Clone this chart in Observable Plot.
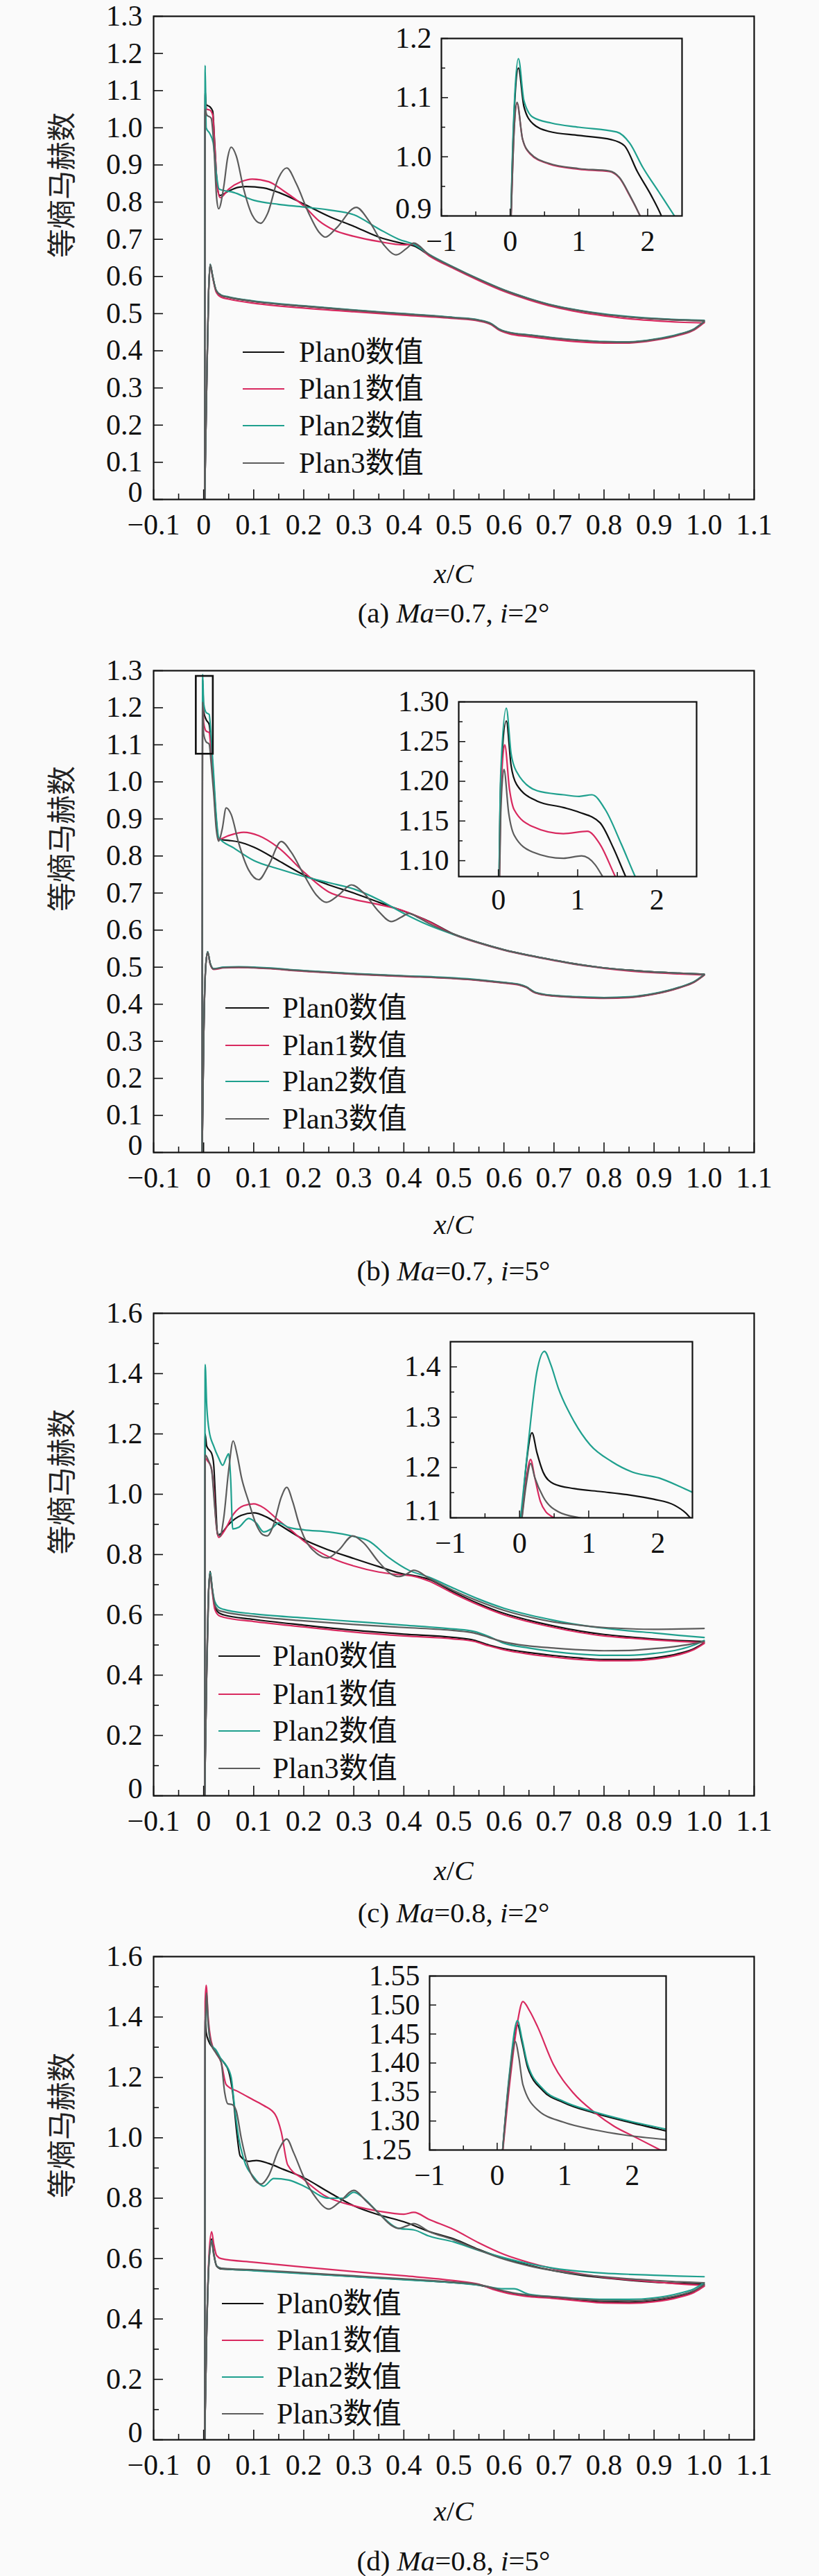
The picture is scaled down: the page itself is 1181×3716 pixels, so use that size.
<!DOCTYPE html>
<html><head><meta charset="utf-8">
<script src="https://cdn.jsdelivr.net/npm/d3@7"></script>
<script src="https://cdn.jsdelivr.net/npm/@observablehq/plot@0.6"></script>
<style>
body{margin:0;background:#fafafa;}
#root{position:relative;width:1181px;height:3716px;overflow:hidden;font-family:"Liberation Serif","Noto Sans CJK SC",serif;color:#111;}
.txt{position:absolute;white-space:nowrap;line-height:1;font-size:41px;transform:translate(-50%,-50%);}
.leg{position:absolute;white-space:nowrap;line-height:1;font-size:42px;transform:translateY(-50%);}
.sw{position:absolute;height:2px;}
</style></head><body><div id="root"></div>
<script>
const plans = ["Plan0数值","Plan1数值","Plan2数值","Plan3数值"];
const colors = ["#111111","#d8295f","#1fa08e","#5c5c5c"];
const yTitle = "等熵马赫数";
const xMajor = [-0.1,0,0.1,0.2,0.3,0.4,0.5,0.6,0.7,0.8,0.9,1.0,1.1];
const xMinor = [-0.05,0.05,0.15,0.25,0.35,0.45,0.55,0.65,0.75,0.85,0.95,1.05];
const yMajor13 = [0,0.1,0.2,0.3,0.4,0.5,0.6,0.7,0.8,0.9,1.0,1.1,1.2,1.3];
const yMajor16 = [0,0.2,0.4,0.6,0.8,1.0,1.2,1.4,1.6];
const yMinor16 = [0.1,0.3,0.5,0.7,0.9,1.1,1.3,1.5];
const captions = ["(a) <i>Ma</i>=0.7, <i>i</i>=2°","(b) <i>Ma</i>=0.7, <i>i</i>=5°","(c) <i>Ma</i>=0.8, <i>i</i>=2°","(d) <i>Ma</i>=0.8, <i>i</i>=5°"];

// ---- Panel (a): Ma=0.7, i=2°  (upper = suction side, lower = pressure side)
const a0u = [[0.002,0],[0.003,1.1],[0.005,1.062],[0.012,1.057],[0.018,1.045],[0.022,0.96],[0.027,0.845],[0.032,0.818],[0.05,0.83],[0.07,0.84],[0.085,0.842],[0.12,0.838],[0.15,0.826],[0.2,0.795],[0.25,0.762],[0.3,0.735],[0.35,0.706],[0.4,0.688],[0.42,0.682],[0.45,0.658],[0.5,0.624],[0.55,0.592],[0.6,0.563],[0.65,0.54],[0.7,0.521],[0.75,0.508],[0.8,0.498],[0.85,0.491],[0.9,0.486],[0.95,0.483],[1.0,0.481]];
const a1u = [[0.002,0],[0.003,1.07],[0.006,1.05],[0.012,1.048],[0.018,1.035],[0.023,0.93],[0.028,0.835],[0.033,0.812],[0.05,0.835],[0.075,0.855],[0.097,0.862],[0.13,0.855],[0.16,0.83],[0.2,0.79],[0.23,0.75],[0.26,0.725],[0.3,0.708],[0.35,0.694],[0.4,0.685],[0.42,0.686],[0.45,0.656],[0.5,0.621],[0.55,0.589],[0.6,0.56],[0.65,0.537],[0.7,0.518],[0.75,0.504],[0.8,0.494],[0.85,0.486],[0.9,0.481],[0.95,0.477],[1.0,0.475]];
const a2u = [[0.002,0],[0.003,1.168],[0.005,1.0],[0.012,0.985],[0.019,0.96],[0.025,0.88],[0.031,0.835],[0.06,0.826],[0.1,0.805],[0.15,0.794],[0.2,0.787],[0.25,0.779],[0.3,0.766],[0.35,0.728],[0.39,0.7],[0.42,0.686],[0.45,0.66],[0.5,0.625],[0.55,0.593],[0.6,0.564],[0.65,0.541],[0.7,0.522],[0.75,0.509],[0.8,0.499],[0.85,0.492],[0.9,0.487],[0.95,0.484],[1.0,0.482]];
const a3u = [[0.002,0],[0.003,1.05],[0.006,1.035],[0.015,1.026],[0.02,0.96],[0.026,0.81],[0.03,0.782],[0.04,0.84],[0.048,0.92],[0.055,0.948],[0.065,0.925],[0.08,0.835],[0.097,0.765],[0.114,0.743],[0.128,0.77],[0.148,0.86],[0.166,0.892],[0.185,0.85],[0.21,0.77],[0.23,0.72],[0.243,0.706],[0.265,0.73],[0.305,0.786],[0.33,0.75],[0.36,0.685],[0.385,0.658],[0.405,0.675],[0.42,0.69],[0.45,0.659],[0.5,0.624],[0.55,0.592],[0.6,0.563],[0.65,0.54],[0.7,0.521],[0.75,0.508],[0.8,0.498],[0.85,0.491],[0.9,0.486],[0.95,0.483],[1.0,0.481]];
const a0l = [[0.002,0],[0.006,0.3],[0.01,0.56],[0.013,0.632],[0.018,0.6],[0.025,0.562],[0.035,0.549],[0.05,0.544],[0.1,0.533],[0.2,0.52],[0.3,0.509],[0.4,0.499],[0.5,0.489],[0.55,0.482],[0.575,0.472],[0.59,0.458],[0.61,0.449],[0.65,0.442],[0.7,0.434],[0.75,0.428],[0.8,0.424],[0.85,0.423],[0.9,0.43],[0.95,0.444],[0.98,0.458],[1.0,0.478]];
const a1l = [[0.002,0],[0.006,0.3],[0.01,0.56],[0.013,0.63],[0.018,0.598],[0.025,0.558],[0.035,0.544],[0.05,0.539],[0.1,0.528],[0.2,0.515],[0.3,0.505],[0.4,0.496],[0.5,0.487],[0.55,0.48],[0.575,0.47],[0.59,0.456],[0.61,0.446],[0.65,0.438],[0.7,0.43],[0.75,0.424],[0.8,0.421],[0.85,0.421],[0.9,0.428],[0.95,0.442],[0.98,0.456],[1.0,0.476]];
const a2l = [[0.002,0],[0.006,0.3],[0.01,0.56],[0.013,0.633],[0.018,0.601],[0.025,0.563],[0.035,0.55],[0.05,0.545],[0.1,0.534],[0.2,0.521],[0.3,0.51],[0.4,0.5],[0.5,0.49],[0.55,0.483],[0.575,0.473],[0.59,0.459],[0.61,0.45],[0.65,0.443],[0.7,0.435],[0.75,0.429],[0.8,0.425],[0.85,0.424],[0.9,0.431],[0.95,0.445],[0.98,0.459],[1.0,0.479]];
const a3l = [[0.002,0],[0.006,0.3],[0.01,0.56],[0.013,0.632],[0.018,0.6],[0.025,0.562],[0.035,0.549],[0.05,0.544],[0.1,0.533],[0.2,0.52],[0.3,0.509],[0.4,0.499],[0.5,0.489],[0.55,0.482],[0.575,0.472],[0.59,0.458],[0.61,0.449],[0.65,0.442],[0.7,0.434],[0.75,0.428],[0.8,0.424],[0.85,0.423],[0.9,0.43],[0.95,0.444],[0.98,0.458],[1.0,0.478]];

// ---- Panel (b): Ma=0.7, i=5°
const b0u = [[-0.003,0],[-0.002,1.275],[0.0,1.19],[0.005,1.168],[0.011,1.155],[0.015,1.1],[0.02,1.0],[0.025,0.9],[0.03,0.845],[0.05,0.842],[0.07,0.838],[0.1,0.824],[0.15,0.787],[0.2,0.749],[0.25,0.722],[0.3,0.7],[0.35,0.675],[0.4,0.651],[0.45,0.624],[0.5,0.589],[0.55,0.566],[0.6,0.547],[0.65,0.532],[0.7,0.519],[0.75,0.507],[0.8,0.498],[0.85,0.492],[0.9,0.487],[0.95,0.484],[1.0,0.481]];
const b1u = [[-0.003,0],[-0.002,1.245],[0.0,1.16],[0.005,1.137],[0.011,1.133],[0.015,1.08],[0.02,0.99],[0.025,0.89],[0.03,0.845],[0.05,0.855],[0.08,0.864],[0.11,0.855],[0.15,0.822],[0.2,0.757],[0.25,0.703],[0.3,0.683],[0.35,0.669],[0.4,0.652],[0.45,0.623],[0.5,0.588],[0.55,0.565],[0.6,0.546],[0.65,0.531],[0.7,0.518],[0.75,0.506],[0.8,0.497],[0.85,0.49],[0.9,0.485],[0.95,0.482],[1.0,0.479]];
const b2u = [[-0.003,0],[-0.002,1.29],[0.0,1.212],[0.005,1.187],[0.011,1.182],[0.015,1.12],[0.02,1.02],[0.025,0.91],[0.03,0.85],[0.06,0.822],[0.1,0.788],[0.15,0.765],[0.2,0.745],[0.25,0.728],[0.3,0.711],[0.35,0.682],[0.4,0.645],[0.45,0.613],[0.5,0.588],[0.55,0.566],[0.6,0.547],[0.65,0.532],[0.7,0.519],[0.75,0.507],[0.8,0.498],[0.85,0.492],[0.9,0.487],[0.95,0.484],[1.0,0.481]];
const b3u = [[-0.003,0],[-0.002,1.215],[0.0,1.13],[0.005,1.108],[0.011,1.102],[0.015,1.05],[0.02,0.97],[0.025,0.875],[0.03,0.84],[0.037,0.872],[0.045,0.93],[0.055,0.912],[0.07,0.835],[0.09,0.762],[0.11,0.736],[0.13,0.775],[0.155,0.839],[0.175,0.81],[0.2,0.75],[0.225,0.695],[0.245,0.675],[0.27,0.695],[0.295,0.722],[0.32,0.7],[0.35,0.65],[0.375,0.623],[0.395,0.635],[0.41,0.645],[0.43,0.633],[0.45,0.618],[0.5,0.589],[0.55,0.566],[0.6,0.547],[0.65,0.532],[0.7,0.519],[0.75,0.507],[0.8,0.498],[0.85,0.492],[0.9,0.487],[0.95,0.484],[1.0,0.481]];
const b0l = [[-0.003,0],[0.0,0.3],[0.004,0.5],[0.008,0.541],[0.013,0.51],[0.02,0.495],[0.04,0.499],[0.07,0.5],[0.1,0.499],[0.2,0.49],[0.3,0.482],[0.4,0.476],[0.5,0.47],[0.55,0.465],[0.6,0.458],[0.63,0.453],[0.645,0.446],[0.66,0.433],[0.68,0.426],[0.7,0.423],[0.75,0.419],[0.8,0.417],[0.85,0.419],[0.9,0.428],[0.95,0.445],[0.98,0.46],[1.0,0.479]];
const b1l = [[-0.003,0],[0.0,0.3],[0.004,0.5],[0.008,0.54],[0.013,0.509],[0.02,0.494],[0.04,0.498],[0.07,0.499],[0.1,0.498],[0.2,0.489],[0.3,0.481],[0.4,0.475],[0.5,0.469],[0.55,0.464],[0.6,0.457],[0.63,0.452],[0.645,0.445],[0.66,0.432],[0.68,0.425],[0.7,0.422],[0.75,0.418],[0.8,0.416],[0.85,0.418],[0.9,0.427],[0.95,0.444],[0.98,0.459],[1.0,0.478]];
const b2l = [[-0.003,0],[0.0,0.3],[0.004,0.5],[0.008,0.542],[0.013,0.511],[0.02,0.496],[0.04,0.5],[0.07,0.501],[0.1,0.5],[0.2,0.491],[0.3,0.483],[0.4,0.477],[0.5,0.471],[0.55,0.466],[0.6,0.459],[0.63,0.454],[0.645,0.447],[0.66,0.434],[0.68,0.427],[0.7,0.424],[0.75,0.42],[0.8,0.418],[0.85,0.42],[0.9,0.429],[0.95,0.446],[0.98,0.461],[1.0,0.48]];
const b3l = [[-0.003,0],[0.0,0.3],[0.004,0.5],[0.008,0.541],[0.013,0.51],[0.02,0.495],[0.04,0.499],[0.07,0.5],[0.1,0.499],[0.2,0.49],[0.3,0.482],[0.4,0.476],[0.5,0.47],[0.55,0.465],[0.6,0.458],[0.63,0.453],[0.645,0.446],[0.66,0.433],[0.68,0.426],[0.7,0.423],[0.75,0.419],[0.8,0.417],[0.85,0.419],[0.9,0.428],[0.95,0.445],[0.98,0.46],[1.0,0.479]];
const bZoomBox = [{x1:-0.015,x2:0.019,y1:1.075,y2:1.285}];

// ---- Panel (c): Ma=0.8, i=2°
const c0u = [[0.002,0],[0.003,1.2],[0.006,1.16],[0.012,1.145],[0.016,1.135],[0.02,1.1],[0.024,0.97],[0.028,0.864],[0.035,0.87],[0.05,0.9],[0.075,0.93],[0.1,0.938],[0.125,0.925],[0.15,0.9],[0.2,0.85],[0.25,0.815],[0.3,0.787],[0.35,0.76],[0.4,0.735],[0.42,0.73],[0.45,0.718],[0.5,0.675],[0.55,0.637],[0.6,0.605],[0.65,0.582],[0.7,0.563],[0.75,0.547],[0.8,0.535],[0.85,0.527],[0.9,0.52],[0.95,0.515],[1.0,0.512]];
const c1u = [[0.002,0],[0.003,1.12],[0.008,1.11],[0.015,1.09],[0.02,1.02],[0.025,0.9],[0.03,0.857],[0.04,0.875],[0.06,0.935],[0.08,0.962],[0.1,0.968],[0.12,0.955],[0.145,0.92],[0.175,0.88],[0.2,0.845],[0.23,0.81],[0.26,0.785],[0.3,0.762],[0.35,0.742],[0.38,0.735],[0.42,0.728],[0.45,0.712],[0.5,0.67],[0.55,0.632],[0.6,0.6],[0.65,0.577],[0.7,0.558],[0.75,0.542],[0.8,0.53],[0.85,0.523],[0.9,0.517],[0.95,0.512],[1.0,0.508]];
const c2u = [[0.002,0],[0.003,1.43],[0.006,1.3],[0.011,1.21],[0.02,1.16],[0.03,1.12],[0.038,1.096],[0.045,1.12],[0.05,1.134],[0.054,1.05],[0.058,0.885],[0.07,0.89],[0.09,0.92],[0.105,0.905],[0.12,0.875],[0.135,0.885],[0.15,0.905],[0.17,0.89],[0.2,0.882],[0.25,0.875],[0.3,0.86],[0.33,0.845],[0.37,0.79],[0.41,0.748],[0.45,0.725],[0.5,0.688],[0.55,0.652],[0.6,0.622],[0.65,0.6],[0.7,0.582],[0.75,0.567],[0.8,0.556],[0.85,0.547],[0.9,0.54],[0.95,0.532],[1.0,0.525]];
const c3u = [[0.002,0],[0.003,1.13],[0.01,1.11],[0.016,1.08],[0.022,0.96],[0.028,0.87],[0.033,0.862],[0.04,0.92],[0.05,1.08],[0.059,1.177],[0.067,1.13],[0.075,1.06],[0.09,0.975],[0.105,0.9],[0.118,0.866],[0.127,0.862],[0.14,0.9],[0.155,0.99],[0.166,1.023],[0.178,0.975],[0.19,0.905],[0.2,0.86],[0.225,0.805],[0.248,0.789],[0.27,0.815],[0.298,0.862],[0.32,0.838],[0.35,0.775],[0.375,0.735],[0.39,0.727],[0.405,0.735],[0.42,0.748],[0.45,0.722],[0.5,0.68],[0.55,0.645],[0.6,0.615],[0.65,0.593],[0.7,0.576],[0.75,0.566],[0.8,0.558],[0.85,0.554],[0.9,0.552],[0.95,0.553],[1.0,0.555]];
const c0l = [[0.002,0],[0.006,0.4],[0.01,0.68],[0.013,0.744],[0.017,0.69],[0.022,0.63],[0.03,0.607],[0.04,0.6],[0.1,0.585],[0.2,0.566],[0.3,0.549],[0.4,0.536],[0.5,0.525],[0.54,0.516],[0.57,0.5],[0.6,0.488],[0.65,0.475],[0.7,0.465],[0.75,0.457],[0.8,0.452],[0.85,0.452],[0.9,0.457],[0.95,0.472],[0.98,0.488],[1.0,0.507]];
const c1l = [[0.002,0],[0.006,0.4],[0.01,0.68],[0.013,0.735],[0.017,0.68],[0.022,0.62],[0.03,0.598],[0.04,0.592],[0.1,0.578],[0.2,0.56],[0.3,0.543],[0.4,0.53],[0.5,0.52],[0.54,0.512],[0.57,0.497],[0.6,0.484],[0.65,0.47],[0.7,0.46],[0.75,0.452],[0.8,0.448],[0.85,0.448],[0.9,0.453],[0.95,0.468],[0.98,0.485],[1.0,0.505]];
const c2l = [[0.002,0],[0.006,0.4],[0.01,0.68],[0.013,0.74],[0.017,0.69],[0.022,0.645],[0.03,0.625],[0.04,0.618],[0.1,0.603],[0.2,0.59],[0.3,0.578],[0.4,0.566],[0.5,0.553],[0.54,0.545],[0.57,0.528],[0.6,0.506],[0.65,0.49],[0.7,0.478],[0.75,0.47],[0.8,0.466],[0.85,0.466],[0.9,0.472],[0.95,0.485],[0.98,0.5],[1.0,0.515]];
const c3l = [[0.002,0],[0.006,0.4],[0.01,0.68],[0.013,0.735],[0.017,0.685],[0.022,0.635],[0.03,0.615],[0.04,0.61],[0.1,0.595],[0.2,0.58],[0.3,0.568],[0.4,0.558],[0.5,0.548],[0.54,0.54],[0.57,0.525],[0.6,0.51],[0.65,0.497],[0.7,0.49],[0.75,0.484],[0.8,0.481],[0.85,0.482],[0.9,0.488],[0.95,0.497],[0.98,0.505],[1.0,0.512]];

// ---- Panel (d): Ma=0.8, i=5°
const d0u = [[0.002,0],[0.003,1.4],[0.005,1.35],[0.01,1.32],[0.02,1.295],[0.03,1.27],[0.04,1.25],[0.05,1.22],[0.058,1.15],[0.066,1.02],[0.073,0.94],[0.09,0.922],[0.105,0.925],[0.13,0.915],[0.16,0.895],[0.2,0.868],[0.25,0.82],[0.3,0.775],[0.35,0.745],[0.4,0.722],[0.45,0.69],[0.5,0.665],[0.55,0.63],[0.6,0.6],[0.65,0.578],[0.7,0.56],[0.75,0.546],[0.8,0.536],[0.85,0.528],[0.9,0.522],[0.95,0.518],[1.0,0.515]];
const d1u = [[0.002,0],[0.003,1.45],[0.005,1.505],[0.009,1.4],[0.015,1.32],[0.025,1.28],[0.035,1.25],[0.045,1.176],[0.07,1.152],[0.1,1.125],[0.12,1.107],[0.143,1.077],[0.155,1.02],[0.168,0.91],[0.2,0.862],[0.24,0.81],[0.3,0.775],[0.35,0.757],[0.4,0.747],[0.42,0.753],[0.45,0.73],[0.5,0.696],[0.55,0.652],[0.6,0.614],[0.65,0.587],[0.7,0.566],[0.75,0.55],[0.8,0.538],[0.85,0.53],[0.9,0.523],[0.95,0.516],[1.0,0.511]];
const d2u = [[0.002,0],[0.003,1.35],[0.006,1.45],[0.009,1.38],[0.015,1.31],[0.025,1.29],[0.035,1.26],[0.045,1.24],[0.055,1.2],[0.062,1.1],[0.07,1.0],[0.08,0.93],[0.1,0.87],[0.12,0.84],[0.14,0.865],[0.17,0.86],[0.2,0.84],[0.25,0.8],[0.28,0.8],[0.3,0.82],[0.32,0.8],[0.35,0.75],[0.39,0.7],[0.42,0.695],[0.45,0.675],[0.5,0.655],[0.55,0.627],[0.6,0.603],[0.65,0.583],[0.7,0.568],[0.75,0.558],[0.8,0.552],[0.85,0.548],[0.9,0.545],[0.95,0.542],[1.0,0.54]];
const d3u = [[0.002,0],[0.003,1.3],[0.006,1.48],[0.009,1.38],[0.015,1.31],[0.025,1.28],[0.035,1.25],[0.042,1.15],[0.048,1.113],[0.057,1.11],[0.065,1.09],[0.075,1.0],[0.09,0.9],[0.105,0.855],[0.115,0.847],[0.13,0.875],[0.15,0.96],[0.166,0.996],[0.18,0.95],[0.2,0.87],[0.225,0.8],[0.25,0.764],[0.27,0.785],[0.3,0.826],[0.325,0.79],[0.35,0.75],[0.375,0.71],[0.39,0.7],[0.405,0.708],[0.42,0.716],[0.45,0.69],[0.5,0.662],[0.55,0.628],[0.6,0.598],[0.65,0.576],[0.7,0.56],[0.75,0.548],[0.8,0.54],[0.85,0.533],[0.9,0.528],[0.95,0.523],[1.0,0.52]];
const d0l = [[0.002,0],[0.006,0.35],[0.011,0.6],[0.016,0.665],[0.02,0.62],[0.026,0.575],[0.035,0.566],[0.1,0.561],[0.2,0.551],[0.3,0.541],[0.4,0.531],[0.5,0.52],[0.55,0.512],[0.58,0.5],[0.6,0.49],[0.64,0.478],[0.7,0.47],[0.75,0.462],[0.8,0.456],[0.85,0.455],[0.9,0.46],[0.95,0.475],[0.98,0.49],[1.0,0.51]];
const d1l = [[0.002,0],[0.006,0.35],[0.011,0.62],[0.016,0.689],[0.02,0.65],[0.026,0.61],[0.035,0.6],[0.1,0.588],[0.2,0.572],[0.3,0.557],[0.4,0.543],[0.5,0.527],[0.55,0.515],[0.58,0.497],[0.6,0.488],[0.64,0.476],[0.7,0.468],[0.75,0.46],[0.8,0.453],[0.85,0.452],[0.9,0.457],[0.95,0.472],[0.98,0.488],[1.0,0.508]];
const d2l = [[0.002,0],[0.006,0.35],[0.011,0.6],[0.016,0.66],[0.02,0.615],[0.026,0.576],[0.035,0.568],[0.1,0.56],[0.2,0.55],[0.3,0.54],[0.4,0.53],[0.5,0.52],[0.55,0.512],[0.6,0.5],[0.62,0.5],[0.65,0.482],[0.7,0.474],[0.75,0.468],[0.8,0.465],[0.85,0.465],[0.9,0.47],[0.95,0.485],[0.98,0.5],[1.0,0.52]];
const d3l = [[0.002,0],[0.006,0.35],[0.011,0.6],[0.016,0.655],[0.02,0.615],[0.026,0.575],[0.035,0.568],[0.1,0.563],[0.2,0.553],[0.3,0.543],[0.4,0.533],[0.5,0.522],[0.55,0.514],[0.58,0.502],[0.6,0.493],[0.64,0.481],[0.7,0.473],[0.75,0.466],[0.8,0.461],[0.85,0.46],[0.9,0.465],[0.95,0.479],[0.98,0.494],[1.0,0.514]];

// ---- Insets (leading-edge detail)
const ia0 = [[0,0.85],[0.03,0.98],[0.07,1.1],[0.12,1.15],[0.2,1.085],[0.33,1.056],[0.56,1.043],[1.0,1.036],[1.47,1.029],[1.66,1.019],[1.85,0.975],[2.05,0.935],[2.2,0.9],[2.3,0.87]];
const ia1 = [[0,0.85],[0.03,0.96],[0.06,1.05],[0.1,1.09],[0.18,1.03],[0.29,1.005],[0.56,0.988],[1.0,0.979],[1.44,0.975],[1.59,0.964],[1.74,0.934],[1.89,0.9],[2.0,0.87]];
const ia2 = [[0,0.85],[0.03,0.99],[0.07,1.11],[0.12,1.166],[0.2,1.095],[0.33,1.067],[0.6,1.057],[1.0,1.05],[1.55,1.042],[1.74,1.023],[1.93,0.982],[2.16,0.941],[2.39,0.9],[2.5,0.88]];
const ia3 = [[0,0.85],[0.03,0.96],[0.06,1.05],[0.1,1.092],[0.18,1.03],[0.29,1.006],[0.56,0.989],[1.0,0.98],[1.44,0.976],[1.59,0.965],[1.74,0.935],[1.89,0.9],[2.0,0.87]];
const ib0 = [[0,1.0],[0.03,1.2],[0.1,1.276],[0.16,1.22],[0.23,1.196],[0.49,1.175],[0.82,1.167],[1.02,1.161],[1.28,1.148],[1.45,1.116],[1.61,1.079],[1.7,1.06]];
const ib1 = [[0,1.0],[0.03,1.18],[0.08,1.246],[0.14,1.19],[0.2,1.164],[0.43,1.143],[0.82,1.134],[1.12,1.137],[1.28,1.121],[1.48,1.079],[1.58,1.06]];
const ib2 = [[0,1.0],[0.03,1.21],[0.1,1.292],[0.16,1.235],[0.23,1.212],[0.49,1.188],[0.82,1.183],[1.02,1.181],[1.18,1.183],[1.35,1.164],[1.55,1.121],[1.73,1.079],[1.82,1.06]];
const ib3 = [[0,1.0],[0.03,1.16],[0.07,1.215],[0.13,1.16],[0.2,1.132],[0.43,1.111],[0.82,1.103],[1.05,1.106],[1.22,1.095],[1.32,1.079],[1.42,1.06]];
const ic0 = [[0.02,1.08],[0.1,1.21],[0.18,1.269],[0.25,1.23],[0.34,1.191],[0.49,1.168],[0.79,1.158],[1.18,1.152],[1.56,1.146],[1.94,1.137],[2.24,1.125],[2.4,1.11],[2.47,1.1],[2.55,1.09]];
const ic1 = [[0.02,1.08],[0.1,1.18],[0.16,1.216],[0.22,1.18],[0.3,1.133],[0.38,1.112],[0.45,1.104],[0.52,1.098],[0.6,1.09]];
const ic2 = [[0.0,1.08],[0.12,1.24],[0.25,1.39],[0.36,1.431],[0.45,1.405],[0.56,1.358],[0.79,1.291],[1.02,1.245],[1.33,1.212],[1.63,1.191],[2.02,1.179],[2.32,1.162],[2.51,1.15]];
const ic3 = [[0.02,1.08],[0.1,1.17],[0.16,1.208],[0.22,1.18],[0.34,1.142],[0.56,1.112],[0.87,1.1],[1.1,1.095],[1.3,1.09]];
const id0 = [[0.06,1.22],[0.18,1.375],[0.3,1.466],[0.37,1.435],[0.45,1.393],[0.68,1.352],[0.98,1.332],[1.43,1.314],[1.88,1.3],[2.5,1.283]];
const id1 = [[0.06,1.22],[0.2,1.38],[0.3,1.47],[0.38,1.506],[0.48,1.49],[0.6,1.462],[0.83,1.398],[1.13,1.348],[1.43,1.316],[1.73,1.291],[2.03,1.273],[2.33,1.255],[2.5,1.245]];
const id2 = [[0.06,1.22],[0.18,1.38],[0.3,1.473],[0.37,1.44],[0.45,1.398],[0.68,1.355],[0.98,1.334],[1.43,1.316],[1.88,1.302],[2.5,1.286]];
const id3 = [[0.06,1.22],[0.17,1.36],[0.27,1.437],[0.32,1.41],[0.38,1.363],[0.6,1.319],[0.98,1.298],[1.43,1.285],[1.88,1.276],[2.5,1.268]];

const root = document.getElementById("root");
const fmt1 = d => d === 0 ? "0" : (d < 0 ? "−" : "") + Math.abs(d).toFixed(1);
const fmt2 = d => d.toFixed(2);
const fmtI = d => (d < 0 ? "−" : "") + Math.abs(d);
const baseStyle = {fontFamily:"Liberation Serif", fontSize:"42px", background:"transparent", color:"#111", overflow:"visible"};

function rows(list){ return list.flatMap((pts,k)=>pts.map(([x,y])=>({x,y,k}))); }
function lines(perPlan, sw){
  return [0,1,2,3].map(i => Plot.line(rows(perPlan[i]), {x:"x", y:"y", z:"k", stroke:colors[i], strokeWidth:sw, curve:"monotone-x", clip:true}));
}

function mainPanel(o){
  const W = 866, H = o.h, mL = 221, mR = 94, mT = 20, mB = 70;
  const yRest = o.yMajor.slice(1), yFirst = o.yMajor.slice(0,1);
  const svg = Plot.plot({
    width:1181, height:H+mT+mB, marginLeft:mL, marginRight:mR, marginTop:mT, marginBottom:mB,
    x:{domain:[-0.1,1.1]}, y:{domain:o.yDomain},
    style:baseStyle,
    marks:[
      ...lines(o.data, 2.2),
      o.box ? Plot.rect(o.box, {x1:"x1", x2:"x2", y1:"y1", y2:"y2", stroke:"#111", strokeWidth:2.6, fill:"none"}) : null,
      Plot.tickX(xMinor, {x:d=>d, insetTop:H-8, stroke:"#111", strokeWidth:1.6}),
      Plot.tickX(xMajor, {x:d=>d, insetTop:H-14, stroke:"#111", strokeWidth:1.6}),
      o.yMinor ? Plot.tickY(o.yMinor, {y:d=>d, insetRight:W-8, stroke:"#111", strokeWidth:1.6}) : null,
      Plot.tickY(o.yMajor, {y:d=>d, insetRight:W-14, stroke:"#111", strokeWidth:1.6}),
      Plot.axisX(xMajor, {tickSize:0, tickPadding:21, tickFormat:fmt1, label:null, fontSize:42}),
      Plot.axisY(yRest, {tickSize:0, tickPadding:16, tickFormat:fmt1, label:null, fontSize:42}),
      Plot.axisY(yFirst, {tickSize:0, tickPadding:16, tickFormat:fmt1, label:null, fontSize:42, dy:-10}),
      Plot.text([yTitle], {text:d=>d, frameAnchor:"left", dx:-131, rotate:-90, fontSize:42, fontFamily:"Noto Sans CJK SC", fill:"#222"}),
      Plot.frame({stroke:"#111", strokeWidth:2.2})
    ]
  });
  svg.style.position = "absolute"; svg.style.left = "0px"; svg.style.top = (o.top - mT) + "px";
  root.appendChild(svg);
}

function insetPanel(o){
  const mL = 100, mR = 24, mT = 28, mB = 66;
  const yRest = o.yMajor.slice(1), yFirst = o.yMajor.slice(0,1);
  const svg = Plot.plot({
    width:o.w+mL+mR, height:o.h+mT+mB, marginLeft:mL, marginRight:mR, marginTop:mT, marginBottom:mB,
    x:{domain:o.xDomain}, y:{domain:o.yDomain},
    style:baseStyle,
    marks:[
      ...lines(o.data, 2.2),
      Plot.tickX(o.xMinor, {x:d=>d, insetTop:o.h-6, stroke:"#111", strokeWidth:1.5}),
      Plot.tickX(o.xMajor, {x:d=>d, insetTop:o.h-10, stroke:"#111", strokeWidth:1.5}),
      Plot.tickY(o.yMinor, {y:d=>d, insetRight:o.w-6, stroke:"#111", strokeWidth:1.5}),
      Plot.tickY(o.yMajor, {y:d=>d, insetRight:o.w-10, stroke:"#111", strokeWidth:1.5}),
      Plot.axisX(o.xMajor, {tickSize:0, tickPadding:o.xPad, tickFormat:fmtI, label:null, fontSize:42}),
      Plot.axisY(yRest, {tickSize:0, tickPadding:14, tickFormat:o.yFmt, label:null, fontSize:42}),
      Plot.axisY(yFirst, {tickSize:0, tickPadding:o.y0pad, tickFormat:o.yFmt, label:null, fontSize:42, dy:o.y0dy}),
      Plot.frame({stroke:"#111", strokeWidth:2.2})
    ]
  });
  svg.style.position = "absolute"; svg.style.left = (o.x0 - mL) + "px"; svg.style.top = (o.y0 - mT) + "px";
  root.appendChild(svg);
}

function text(html, x, y){
  const d = document.createElement("div");
  d.className = "txt"; d.innerHTML = html;
  d.style.left = x + "px"; d.style.top = y + "px";
  root.appendChild(d);
}
function legend(lx1, lx2, tx, ys){
  ys.forEach((y,i) => {
    const s = document.createElement("div");
    s.className = "sw"; s.style.left = lx1 + "px"; s.style.width = (lx2 - lx1) + "px";
    s.style.top = (y - 1) + "px"; s.style.background = colors[i];
    root.appendChild(s);
    const t = document.createElement("div");
    t.className = "leg"; t.textContent = plans[i];
    t.style.left = tx + "px"; t.style.top = y + "px";
    root.appendChild(t);
  });
}

const panels = [
  {top:23, h:697, yDomain:[0,1.3], yMajor:yMajor13, data:[[a0u,a0l],[a1u,a1l],[a2u,a2l],[a3u,a3l]],
   leg:[350,410,431,[508,561,614,668]], xl:827, cap:884,
   inset:{x0:636, y0:55, w:347, h:256, xDomain:[-1,2.5], yDomain:[0.9,1.2], xMajor:[-1,0,1,2], xMinor:[-0.5,0.5,1.5], yMajor:[0.9,1.0,1.1,1.2], yMinor:[0.95,1.05,1.15], yFmt:fmt1, xPad:21, y0dy:-10, y0pad:14, data:[[ia0],[ia1],[ia2],[ia3]]}},
  {top:967, h:695, yDomain:[0,1.3], yMajor:yMajor13, box:bZoomBox, data:[[b0u,b0l],[b1u,b1l],[b2u,b2l],[b3u,b3l]],
   leg:[325,388,407,[1454,1508,1560,1614]], xl:1766, cap:1833,
   inset:{x0:661, y0:1012, w:343, h:252, xDomain:[-0.5,2.5], yDomain:[1.08,1.30], xMajor:[0,1,2], xMinor:[0.5,1.5], yMajor:[1.10,1.15,1.20,1.25,1.30], yMinor:[1.125,1.175,1.225,1.275], yFmt:fmt2, xPad:18, y0dy:0, y0pad:14, data:[[ib0],[ib1],[ib2],[ib3]]}},
  {top:1894, h:696, yDomain:[0,1.6], yMajor:yMajor16, yMinor:yMinor16, data:[[c0u,c0l],[c1u,c1l],[c2u,c2l],[c3u,c3l]],
   leg:[315,375,393,[2389,2444,2497,2551]], xl:2698, cap:2759,
   inset:{x0:649, y0:1935, w:349, h:254, xDomain:[-1,2.5], yDomain:[1.1,1.45], xMajor:[-1,0,1,2], xMinor:[-0.5,0.5,1.5], yMajor:[1.1,1.2,1.3,1.4], yMinor:[1.15,1.25,1.35], yFmt:fmt1, xPad:21, y0dy:-10, y0pad:14, data:[[ic0],[ic1],[ic2],[ic3]]}},
  {top:2822, h:697, yDomain:[0,1.6], yMajor:yMajor16, yMinor:yMinor16, data:[[d0u,d0l],[d1u,d1l],[d2u,d2l],[d3u,d3l]],
   leg:[320,380,399,[3323,3376,3429,3482]], xl:3622, cap:3694,
   inset:{x0:619, y0:2850, w:341, h:251, xDomain:[-1,2.5], yDomain:[1.25,1.55], xMajor:[-1,0,1,2], xMinor:[-0.5,0.5,1.5], yMajor:[1.25,1.30,1.35,1.40,1.45,1.50,1.55], yMinor:[], yFmt:fmt2, xPad:21, y0dy:0, y0pad:26, data:[[id0],[id1],[id2],[id3]]}}
];

panels.forEach((p,i) => {
  mainPanel(p);
  insetPanel(p.inset);
  legend(p.leg[0], p.leg[1], p.leg[2], p.leg[3]);
  text("<i>x</i>/<i>C</i>", 654, p.xl);
  text(captions[i], 654, p.cap);
});
</script></body></html>
